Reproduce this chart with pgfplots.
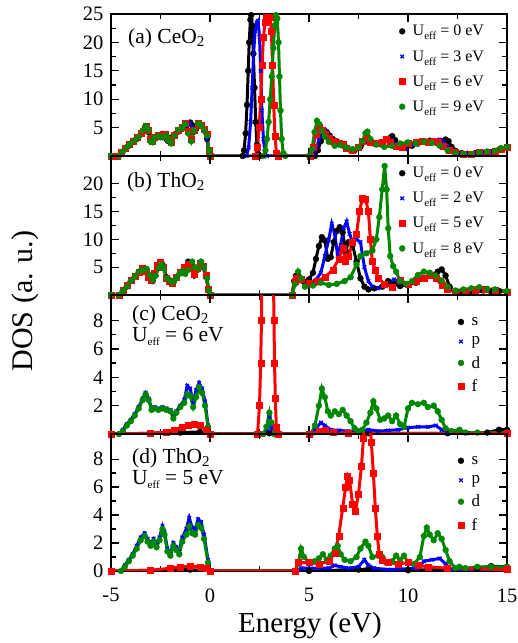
\documentclass[border=0pt]{standalone}
\usepackage{fontspec}
\setmainfont{Liberation Serif}
\usepackage{pgfplots}
\pgfplotsset{compat=1.18}
\definecolor{dgreen}{RGB}{0,135,0}

\newcommand{\Ueff}{U\raisebox{-4pt}{\fontsize{11}{11}\selectfont eff}}
\tikzset{plabel/.style={font=\fontsize{21.5}{20.5}\selectfont, inner sep=0pt, anchor=north west, align=left},
  pline/.style={font=\fontsize{21.5}{20.5}\selectfont, inner sep=0pt, anchor=base west}}
\pgfplotsset{
  dospanel/.style={
    scale only axis, width=396pt,
    xmin=-5, xmax=15, xtick={-5,0,5,10,15}, minor x tick num=1,
    xticklabels={}, ymin=0, minor y tick num=1,
    tick align=inside, major tick length=8pt, minor tick length=5pt,
    tick style={black, line width=1.3pt},
    axis line style={line width=1.6pt},
    ticklabel style={font=\fontsize{20.5}{22}\selectfont},
    yticklabel style={xshift=-4pt},
    xticklabel style={yshift=-14pt},
    /pgf/number format/assume math mode=true,
    legend cell align=left,
    legend style={draw=none, fill=none, font=\fontsize{16}{18}\selectfont,
      at={(0.955,0.95)}, anchor=north east, row sep=9pt},
    legend image code/.code={\path[draw=none, fill=none] (0cm,0cm) -- (0.3cm,0cm);
      \draw[##1] plot[only marks] coordinates {(0cm,0cm)};},
  },
  sblack/.style={black, line width=3pt, mark=*, mark size=3pt, mark options={line width=0.3pt}},
  sblue/.style={blue, line width=3pt, mark=x, mark size=2.5pt, mark options={line width=1.3pt}},
  sred/.style={red, line width=3pt, mark=square*, mark size=3pt, mark options={line width=0.3pt}},
  sgreen/.style={dgreen, line width=3pt, mark=*, mark size=3pt, mark options={line width=0.3pt}},
  pdoslegend/.style={legend style={at={(0.945,0.87)}, row sep=6pt, font=\fontsize{17}{19}\selectfont}},
}

\begin{document}
\begin{tikzpicture}
\useasboundingbox (-111pt,14pt) rectangle (407pt,-629pt);

% (a) CeO2 total DOS
\begin{axis}[dospanel, name=pa, at={(0,0)}, anchor=north west, height=142pt,
  ymax=25, ytick={5,10,15,20,25}]
\addplot[sblack] coordinates {
(-5,0)(-4.7,0)(-4.5,0.5)(-4.3,1.2)(-4.1,1.8)(-3.9,2.5)(-3.7,3.0)(-3.5,3.8)(-3.3,4.6)(-3.2,4.9)(-3.1,4.2)(-3.0,2.8)(-2.9,2.5)(-2.8,3.0)(-2.7,3.4)(-2.5,3.3)(-2.4,3.9)(-2.3,3.6)(-2.2,3.0)(-2.1,2.6)(-2.0,3.2)(-1.8,3.8)(-1.6,4.3)(-1.4,4.8)(-1.2,5.3)(-1.0,5.9)(-0.9,5.4)(-0.8,4.3)(-0.7,4.8)(-0.6,5.6)(-0.5,5.3)(-0.3,4.5)(-0.15,3.0)(-0.05,0.5)(0,0)
(1.65,0)(1.72,1)(1.8,4)(1.87,9)(1.93,15)(1.98,20)(2.04,24)(2.08,24.8)(2.13,23)(2.19,18)(2.25,12)(2.31,6)(2.37,2)(2.45,0.3)(2.55,0)
(5.3,0)(5.45,1)(5.6,2.6)(5.75,3.8)(5.9,4.2)(6.05,3.6)(6.2,3.0)(6.4,2.6)(6.6,2.3)(6.8,1.7)(7.0,1.2)(7.3,1.0)(7.6,1.6)(7.9,2.6)(8.1,2.4)(8.3,2.2)(8.6,2.4)(8.9,2.8)(9.1,3.2)(9.2,3.5)(9.35,2.8)(9.6,1.6)(9.9,1.4)(10.2,1.8)(10.5,2.2)(10.8,2.5)(11.1,2.7)(11.4,2.5)(11.7,2.6)(11.9,2.9)(12.05,2.6)(12.2,1.6)(12.4,0.9)(12.7,0.5)(13.0,0.4)(13.4,0.5)(13.8,0.5)(14.2,0.7)(14.6,1.1)(15,1.5)
};
\addlegendentry{\Ueff{} = 0 eV}
\addplot[sblue] coordinates {
(-5,0)(-4.7,0)(-4.5,0.5)(-4.3,1.2)(-4.1,1.9)(-3.9,2.5)(-3.7,3.1)(-3.5,3.9)(-3.3,4.7)(-3.2,5.0)(-3.1,4.3)(-3.0,2.8)(-2.9,2.6)(-2.8,3.1)(-2.7,3.5)(-2.5,3.4)(-2.4,3.7)(-2.3,3.5)(-2.2,3.0)(-2.1,2.6)(-2.0,3.2)(-1.8,3.8)(-1.6,4.4)(-1.4,4.9)(-1.2,5.4)(-1.0,5.7)(-0.9,5.2)(-0.8,4.3)(-0.7,4.8)(-0.6,5.6)(-0.5,5.4)(-0.3,4.5)(-0.15,3.0)(-0.05,0.5)(0,0)
(1.85,0)(1.95,1.5)(2.05,6)(2.13,12)(2.2,18)(2.28,22)(2.36,23.5)(2.43,23.8)(2.5,21)(2.56,15)(2.62,8)(2.7,3)(2.78,0.5)(2.88,0)
(5.2,0)(5.35,1)(5.5,2.8)(5.65,4.2)(5.8,4.6)(5.95,3.8)(6.1,3.1)(6.3,2.7)(6.5,2.4)(6.7,1.8)(6.9,1.2)(7.2,1.0)(7.5,1.5)(7.8,2.5)(8.0,2.7)(8.2,2.4)(8.5,2.3)(8.8,2.6)(9.0,3.0)(9.15,2.8)(9.4,2.2)(9.6,1.5)(9.9,1.5)(10.2,2.0)(10.5,2.3)(10.8,2.6)(11.1,2.6)(11.4,2.7)(11.6,2.9)(11.8,2.5)(12.0,1.6)(12.3,0.9)(12.6,0.5)(13.0,0.4)(13.4,0.5)(13.8,0.6)(14.2,0.7)(14.6,1.1)(15,1.4)
};
\addlegendentry{\Ueff{} = 3 eV}
\addplot[sred] coordinates {
(-5,0)(-4.7,0)(-4.5,0.6)(-4.3,1.4)(-4.1,2.0)(-3.9,2.7)(-3.7,3.3)(-3.5,4.0)(-3.3,4.9)(-3.22,5.2)(-3.1,4.5)(-3.0,3.0)(-2.9,2.7)(-2.8,3.3)(-2.6,3.6)(-2.4,3.5)(-2.25,3.8)(-2.1,2.9)(-1.95,2.4)(-1.8,3.7)(-1.6,4.6)(-1.4,5.1)(-1.25,5.7)(-1.1,4.4)(-0.95,3.0)(-0.8,4.6)(-0.6,5.8)(-0.45,5.5)(-0.3,4.8)(-0.15,3.8)(-0.05,1)(0.02,0)
(2.3,0)(2.4,1.5)(2.48,5)(2.56,10)(2.63,16)(2.7,21)(2.78,23.5)(2.86,24.5)(2.95,24.2)(3.03,24.5)(3.1,22)(3.16,16)(3.22,9)(3.28,3.5)(3.36,0.5)(3.45,0)
(5.05,0)(5.2,1.5)(5.35,3.8)(5.5,5.1)(5.65,4.6)(5.8,3.8)(6.0,3.2)(6.2,2.6)(6.45,2.2)(6.7,2.0)(6.9,1.4)(7.2,1.1)(7.5,1.6)(7.7,2.6)(7.9,3.2)(8.1,2.5)(8.4,2.2)(8.7,2.5)(8.9,2.9)(9.1,2.5)(9.4,1.8)(9.7,1.6)(10.0,2.2)(10.4,2.4)(10.7,2.6)(11.0,2.4)(11.3,2.6)(11.5,2.4)(11.8,1.8)(12.1,1.0)(12.4,0.6)(12.8,0.4)(13.2,0.4)(13.6,0.6)(14.0,0.7)(14.4,0.8)(14.7,1.2)(15,1.5)
};
\addlegendentry{\Ueff{} = 6 eV}
\addplot[sgreen] coordinates {
(-5,0)(-4.6,0)(-4.4,0.8)(-4.2,1.6)(-4.0,2.2)(-3.8,2.8)(-3.6,3.4)(-3.4,4.5)(-3.25,5.3)(-3.1,4.6)(-3.0,2.6)(-2.9,2.4)(-2.8,3.2)(-2.6,3.5)(-2.4,3.3)(-2.2,3.6)(-2.1,2.8)(-1.95,2.2)(-1.8,3.5)(-1.6,4.6)(-1.4,5.0)(-1.25,5.6)(-1.1,4.0)(-0.95,2.6)(-0.8,4.5)(-0.6,5.7)(-0.45,5.4)(-0.3,4.6)(-0.15,3.6)(-0.05,1)(0.02,0)
(2.7,0)(2.8,1)(2.88,3)(2.96,6)(3.04,10)(3.12,14)(3.2,19)(3.27,23)(3.33,24.8)(3.4,24.2)(3.46,20)(3.51,14)(3.56,8)(3.62,3)(3.7,0.5)(3.8,0)
(5.0,0)(5.15,1.2)(5.28,4.2)(5.4,6.2)(5.52,5.6)(5.65,4.4)(5.8,3.4)(6.0,2.5)(6.3,1.8)(6.6,1.9)(6.9,1.5)(7.2,1.2)(7.5,1.5)(7.7,2.6)(7.85,4.0)(7.95,4.3)(8.1,3.0)(8.4,2.0)(8.8,1.6)(9.2,1.8)(9.6,2.2)(10.0,2.4)(10.4,2.2)(10.8,2.5)(11.2,2.3)(11.6,1.8)(12.0,1.0)(12.4,0.5)(12.8,0.4)(13.2,0.3)(13.6,0.6)(14.0,0.8)(14.4,0.9)(14.7,1.4)(15,1.6)
};
\addlegendentry{\Ueff{} = 9 eV}
\node[plabel] at (rel axis cs:0.043,0.9) {(a) CeO\textsubscript{2}};
\end{axis}

% (b) ThO2 total DOS
\begin{axis}[dospanel, name=pb, at={(pa.south west)}, anchor=north west, height=139pt,
  ymax=25, ytick={5,10,15,20}]
\addplot[sblack] coordinates {
(-5,0)(-4.6,0)(-4.4,0.8)(-4.2,1.5)(-4.0,2.5)(-3.8,3.2)(-3.6,4.0)(-3.4,4.6)(-3.2,4.5)(-3.05,3.5)(-2.9,2.5)(-2.75,3.5)(-2.6,5.2)(-2.45,5.8)(-2.35,5.2)(-2.2,3.2)(-2.0,2.6)(-1.85,2.2)(-1.7,3.0)(-1.5,4.0)(-1.3,5.0)(-1.1,6.0)(-0.95,5.2)(-0.8,3.5)(-0.65,4.5)(-0.5,5.8)(-0.35,5.0)(-0.2,3.5)(-0.08,1)(0,0)
(4.15,0)(4.25,2.5)(4.35,3.5)(4.5,3.2)(4.7,2.5)(5.0,2.8)(5.2,4.0)(5.35,6.5)(5.5,8.8)(5.65,10.4)(5.8,9.8)(5.95,6.5)(6.1,6.8)(6.25,9.5)(6.4,11.5)(6.55,12.2)(6.7,11.2)(6.85,8)(7.0,9.5)(7.2,9.0)(7.4,6.0)(7.6,3.0)(7.8,1.5)(8.0,1.0)(8.3,1.2)(8.7,1.5)(9.0,2.5)(9.3,2.0)(9.6,1.6)(10.0,1.8)(10.4,2.2)(10.8,3.0)(11.2,3.5)(11.5,4.2)(11.7,4.6)(11.9,3.5)(12.1,1.5)(12.4,0.6)(12.8,0.4)(13.3,0.5)(13.8,0.8)(14.2,0.6)(14.6,0.7)(15,0.5)
};
\addlegendentry{\Ueff{} = 0 eV}
\addplot[sblue] coordinates {
(-5,0)(-4.6,0)(-4.4,0.8)(-4.2,1.6)(-4.0,2.6)(-3.8,3.3)(-3.6,4.1)(-3.4,4.6)(-3.2,4.4)(-3.05,3.4)(-2.9,2.6)(-2.75,3.6)(-2.6,5.1)(-2.45,5.6)(-2.35,5.0)(-2.2,3.2)(-2.0,2.6)(-1.85,2.3)(-1.7,3.0)(-1.5,4.0)(-1.3,5.0)(-1.1,5.8)(-0.95,5.0)(-0.8,3.6)(-0.65,4.6)(-0.5,5.7)(-0.35,4.9)(-0.2,3.4)(-0.08,1)(0,0)
(4.15,0)(4.25,2.3)(4.35,3.3)(4.6,2.5)(5.0,2.0)(5.3,2.5)(5.6,4.0)(5.8,7.0)(6.0,10.0)(6.15,12.8)(6.3,11.0)(6.45,7.0)(6.6,9.0)(6.75,12.0)(6.9,13.2)(7.05,11.0)(7.2,9.5)(7.4,10.0)(7.6,9.5)(7.8,5.0)(8.0,2.5)(8.2,1.5)(8.5,1.2)(8.9,1.8)(9.3,2.8)(9.6,2.2)(10.0,1.8)(10.4,2.6)(10.8,3.2)(11.2,3.8)(11.5,3.3)(11.8,2.0)(12.1,1.0)(12.5,0.6)(13.0,0.5)(13.5,0.7)(14.0,0.9)(14.5,0.7)(15,0.6)
};
\addlegendentry{\Ueff{} = 2 eV}
\addplot[sred] coordinates {
(-5,0)(-4.6,0)(-4.4,0.9)(-4.2,1.7)(-4.0,2.7)(-3.8,3.4)(-3.6,4.2)(-3.45,4.8)(-3.3,4.3)(-3.1,3.2)(-2.95,2.6)(-2.8,4.0)(-2.65,5.4)(-2.5,5.9)(-2.35,5.0)(-2.2,3.0)(-2.05,2.5)(-1.9,2.2)(-1.7,3.2)(-1.5,4.2)(-1.3,5.0)(-1.1,5.6)(-0.95,4.8)(-0.8,3.8)(-0.65,4.8)(-0.5,5.8)(-0.35,5.2)(-0.2,3.6)(-0.08,1)(0,0)
(4.15,0)(4.28,2.5)(4.4,3.1)(4.6,2.8)(5.0,2.2)(5.4,2.5)(5.8,3.2)(6.2,4.5)(6.5,6.5)(6.7,8.5)(6.85,6.0)(7.0,7.0)(7.2,9.5)(7.4,11.0)(7.55,15.0)(7.7,17.5)(7.85,17.3)(8.0,15.0)(8.1,10.0)(8.2,6.0)(8.35,4.5)(8.5,3.0)(8.8,2.0)(9.2,1.5)(9.6,2.6)(10.0,2.0)(10.4,2.5)(10.8,3.0)(11.1,3.6)(11.4,3.0)(11.7,1.8)(12.0,1.0)(12.4,0.6)(12.9,0.5)(13.4,0.8)(13.9,1.0)(14.4,0.8)(15,0.6)
};
\addlegendentry{\Ueff{} = 5 eV}
\addplot[sgreen] coordinates {
(-5,0)(-4.6,0)(-4.4,0.7)(-4.2,1.5)(-4.0,2.5)(-3.8,3.3)(-3.6,4.2)(-3.4,4.5)(-3.2,4.7)(-3.05,3.6)(-2.9,2.7)(-2.75,3.5)(-2.6,4.8)(-2.45,5.5)(-2.35,4.8)(-2.2,3.0)(-2.0,2.5)(-1.87,2.3)(-1.7,3.0)(-1.55,3.8)(-1.4,4.3)(-1.25,3.8)(-1.1,4.5)(-0.9,6.0)(-0.75,5.0)(-0.6,4.8)(-0.45,6.0)(-0.3,5.0)(-0.15,3.0)(-0.05,0.8)(0.02,0)
(4.15,0)(4.3,2.0)(4.45,4.2)(4.6,3.0)(4.8,1.5)(5.2,1.7)(5.6,2.2)(6.0,1.8)(6.4,2.0)(6.8,2.5)(7.1,3.2)(7.4,5.5)(7.6,7.0)(7.9,7.5)(8.2,8.0)(8.4,10.0)(8.55,14.0)(8.7,19.0)(8.82,23.2)(8.92,19.0)(9.0,12.0)(9.1,7.0)(9.25,5.2)(9.4,4.2)(9.6,2.5)(9.9,2.0)(10.2,2.5)(10.5,3.6)(10.8,4.2)(11.1,4.0)(11.4,3.5)(11.7,2.6)(12.0,1.5)(12.4,0.8)(12.8,1.0)(13.2,1.2)(13.6,1.4)(14.0,1.1)(14.4,1.0)(15,0.7)
};
\addlegendentry{\Ueff{} = 8 eV}
\node[plabel] at (rel axis cs:0.04,0.885) {(b) ThO\textsubscript{2}};
\end{axis}

% (c) CeO2 projected DOS, Ueff = 6 eV
\begin{axis}[dospanel, name=pc, at={(pb.south west)}, anchor=north west, height=139pt,
  ymax=9.8, ytick={2,4,6,8}, pdoslegend]
\addplot[sblack] coordinates {
(-5,0)(-3,0.05)(-1.5,0.1)(-0.5,0.15)(0,0)(2.5,0)(3.0,0.05)(5,0)(8,0.05)(12,0.05)(14,0.1)(14.6,0.3)(15,0.3)
};
\addlegendentry{s}
\addplot[sblue] coordinates {
(-5,0)(-4.6,0)(-4.4,0.3)(-4.2,0.7)(-4.0,1.0)(-3.8,1.4)(-3.6,1.9)(-3.4,2.5)(-3.25,2.9)(-3.1,2.5)(-2.95,1.8)(-2.8,1.9)(-2.6,1.8)(-2.4,1.9)(-2.2,1.8)(-2.0,1.7)(-1.85,1.2)(-1.7,1.6)(-1.5,2.0)(-1.3,2.4)(-1.15,3.4)(-1.0,3.2)(-0.85,2.2)(-0.7,3.1)(-0.55,3.6)(-0.4,3.2)(-0.25,2.3)(-0.1,0.6)(0,0)
(2.7,0)(2.9,0.3)(3.0,1.2)(3.1,0.4)(3.3,0)(5.1,0)(5.3,0.3)(5.6,0.8)(5.8,0.6)(6.1,0.3)(6.5,0.25)(7.0,0.2)(7.5,0.15)(8.0,0.3)(8.5,0.2)(9.0,0.25)(9.5,0.3)(10.0,0.45)(10.5,0.5)(11.0,0.5)(11.4,0.6)(11.7,0.3)(12.0,0.05)(13,0.05)(15,0.05)
};
\addlegendentry{p}
\addplot[sgreen] coordinates {
(-5,0)(-4.6,0)(-4.4,0.2)(-4.2,0.6)(-4.0,0.9)(-3.8,1.3)(-3.6,1.8)(-3.4,2.4)(-3.25,2.8)(-3.1,2.4)(-2.95,1.7)(-2.8,1.8)(-2.6,1.7)(-2.4,1.8)(-2.2,1.7)(-2.0,1.6)(-1.85,1.1)(-1.7,1.5)(-1.5,1.9)(-1.3,2.2)(-1.15,2.8)(-1.0,2.7)(-0.85,1.9)(-0.7,2.6)(-0.55,3.3)(-0.4,2.9)(-0.25,2.0)(-0.1,0.5)(0,0)
(2.7,0)(2.85,0.5)(3.0,1.5)(3.1,0.8)(3.25,0)(5.1,0)(5.3,0.6)(5.5,2.0)(5.65,3.2)(5.8,2.6)(5.95,1.6)(6.1,1.3)(6.3,1.6)(6.5,1.4)(6.7,1.7)(6.9,1.3)(7.1,0.9)(7.3,0.4)(7.5,0.2)(7.7,0.3)(7.9,0.8)(8.1,1.5)(8.25,2.3)(8.4,1.8)(8.6,1.0)(8.8,1.1)(9.0,1.3)(9.2,0.9)(9.4,1.3)(9.6,0.7)(9.8,0.5)(10.0,1.8)(10.2,2.2)(10.5,2.1)(10.8,2.2)(11.0,1.9)(11.3,2.0)(11.5,1.6)(11.7,1.0)(11.9,0.4)(12.2,0.2)(12.6,0.3)(12.9,0.1)(13.5,0.1)(15,0.1)
};
\addlegendentry{d}
\addplot[sred] coordinates {
(-5,0)(-3,0.05)(-2.2,0.15)(-1.8,0.3)(-1.4,0.5)(-1.1,0.6)(-0.8,0.7)(-0.5,0.6)(-0.2,0.3)(0,0)
(2.4,0)(2.5,2)(2.56,5)(2.6,8)(2.63,12)(2.75,20)(2.9,24)(3.05,22)(3.15,16)(3.2,12)(3.23,8)(3.26,5)(3.3,2.5)(3.35,0.5)(3.45,0)
(5.0,0)(5.5,0.2)(5.8,0.3)(6.2,0.15)(7,0.05)(15,0.05)
};
\addlegendentry{f}
\node[pline] at (rel axis cs:0.053,0.82) {(c) CeO\textsubscript{2}};
\node[pline] at (rel axis cs:0.053,0.665) {\Ueff{} = 6 eV};
\end{axis}

% (d) ThO2 projected DOS, Ueff = 5 eV
\begin{axis}[dospanel, name=pd, at={(pc.south west)}, anchor=north west, height=137pt,
  ymax=9.8, ytick={0,2,4,6,8}, xticklabels={-5,0,5,10,15}, pdoslegend]
\addplot[sblack] coordinates {
(-5,0)(-1,0.1)(0,0)(5,0)(7.5,0.1)(8,0.15)(10,0.05)(13.5,0.2)(14.2,0.35)(15,0.3)
};
\addlegendentry{s}
\addplot[sblue] coordinates {
(-5,0)(-4.5,0)(-4.3,0.4)(-4.1,0.8)(-3.9,1.2)(-3.7,1.8)(-3.5,2.4)(-3.3,2.7)(-3.15,2.3)(-3.0,2.0)(-2.85,2.3)(-2.7,1.9)(-2.55,2.4)(-2.4,3.2)(-2.3,2.8)(-2.15,1.6)(-2.0,1.2)(-1.85,2.0)(-1.7,1.7)(-1.55,1.4)(-1.4,2.4)(-1.2,3.0)(-1.05,3.8)(-0.9,3.1)(-0.75,3.0)(-0.6,3.7)(-0.45,3.5)(-0.3,2.6)(-0.1,0.8)(0,0)
(4.4,0)(4.6,0.2)(6,0.2)(6.3,0.4)(6.6,0.3)(7.0,0.2)(7.5,0.3)(7.8,0.8)(8.0,0.4)(8.3,0.2)(9,0.1)(10.5,0.2)(10.8,0.7)(11.2,0.8)(11.6,0.9)(11.9,0.5)(12.2,0.1)(15,0.05)
};
\addlegendentry{p}
\addplot[sgreen] coordinates {
(-5,0)(-4.5,0)(-4.3,0.3)(-4.1,0.7)(-3.9,1.1)(-3.7,1.6)(-3.5,2.2)(-3.3,2.5)(-3.15,2.1)(-3.0,1.8)(-2.85,2.1)(-2.7,1.7)(-2.55,2.2)(-2.4,3.0)(-2.3,2.6)(-2.15,1.4)(-2.0,1.1)(-1.85,1.8)(-1.7,1.5)(-1.55,1.2)(-1.4,2.1)(-1.2,2.6)(-1.05,3.2)(-0.9,2.7)(-0.75,2.6)(-0.6,3.3)(-0.45,3.1)(-0.3,2.3)(-0.1,0.6)(0,0)
(4.3,0)(4.45,0.5)(4.6,1.6)(4.75,1.0)(5.0,0.6)(5.3,0.7)(5.5,0.9)(5.7,1.2)(5.9,0.8)(6.1,1.1)(6.3,1.6)(6.45,1.8)(6.6,1.2)(6.8,0.8)(7.1,0.7)(7.4,1.0)(7.6,1.6)(7.85,2.1)(8.0,1.8)(8.2,1.0)(8.5,1.1)(8.7,1.0)(8.9,0.6)(9.2,0.7)(9.4,1.1)(9.6,0.8)(9.8,1.1)(10.0,0.6)(10.3,0.5)(10.6,1.0)(10.8,2.5)(10.95,3.1)(11.1,2.6)(11.3,2.2)(11.5,2.7)(11.7,2.3)(11.9,1.5)(12.1,0.7)(12.4,0.2)(12.6,0.3)(12.9,0.2)(13.5,0.3)(14.2,0.3)(15,0.3)
};
\addlegendentry{d}
\addplot[sred] coordinates {
(-5,0)(-3,0.05)(-2,0.2)(-1.5,0.3)(-1.0,0.35)(-0.5,0.3)(-0.2,0.2)(0,0)
(4.3,0)(4.45,0.6)(5.0,0.6)(5.5,0.5)(6.0,0.7)(6.3,1.3)(6.5,2.5)(6.7,4.5)(6.85,6.0)(6.95,6.8)(7.05,6.5)(7.2,4.8)(7.35,4.3)(7.5,5.5)(7.65,7.5)(7.75,9.5)(7.85,11)(7.95,10.5)(8.05,11)(8.15,9.2)(8.25,7)(8.35,4.5)(8.45,2.5)(8.55,1.2)(8.7,0.8)(9.0,0.6)(9.5,0.5)(10,0.6)(10.5,0.4)(11,0.3)(12,0.2)(15,0.1)
};
\addlegendentry{f}
\node[pline] at (rel axis cs:0.053,0.785) {(d) ThO\textsubscript{2}};
\node[pline] at (rel axis cs:0.053,0.63) {\Ueff{} = 5 eV};
\end{axis}

\node[font=\fontsize{29}{32}\selectfont] at (199pt,-612pt) {Energy (eV)};
\node[rotate=90, font=\fontsize{30}{33}\selectfont] at (-86pt,-287pt) {DOS (a. u.)};
\end{tikzpicture}
\end{document}
